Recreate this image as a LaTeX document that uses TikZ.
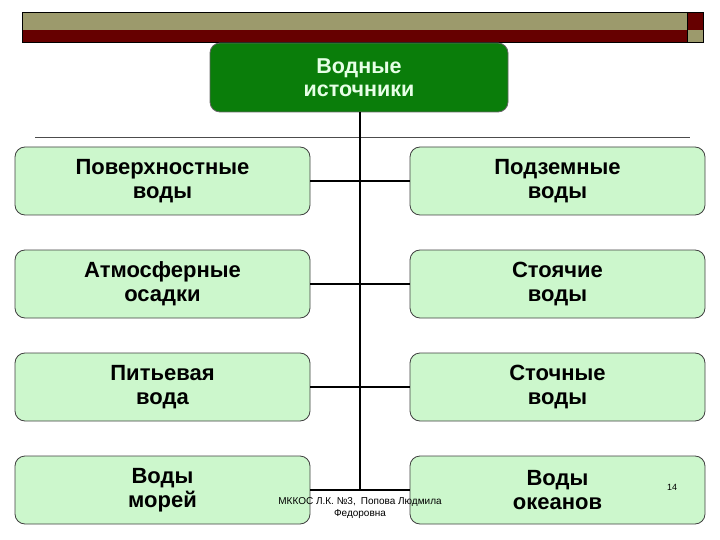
\documentclass[tikz,border=0pt]{standalone}
\usepackage{fontspec}
\setmainfont{Liberation Sans}
\definecolor{khaki}{HTML}{9C9A6C}
\definecolor{dred}{HTML}{660000}
\definecolor{dgreen}{HTML}{0A7D0A}
\definecolor{lgreen}{HTML}{CCF7CC}
\definecolor{ltext}{HTML}{E6FFE6}
\begin{document}
\begin{tikzpicture}[x=1pt,y=-1pt,
  item/.style={draw=black!75, line width=0.8pt, fill=lgreen, rounded corners=10pt,
    minimum width=295pt, minimum height=68pt, align=center, inner sep=0pt,
    font=\fontsize{22}{24}\selectfont\bfseries},
  root/.style={draw=black!60, line width=0.8pt, fill=dgreen, rounded corners=10pt,
    minimum width=298pt, minimum height=69pt, align=center, inner sep=0pt,
    text=ltext, font=\fontsize{21.5}{23}\selectfont\bfseries},
  conn/.style={draw=black, line width=1.6pt}]
\useasboundingbox (0,0) rectangle (720,540);
% top bar
\fill[khaki] (22,12) rectangle (687,30);
\fill[dred] (22,30) rectangle (687,42);
\fill[dred] (687,12) rectangle (703,30);
\fill[khaki] (687,30) rectangle (703,42);
\draw[line width=0.8pt] (22,12) rectangle (703,42);
\draw[line width=0.5pt] (687,12) -- (687,42);
% root
\node[root] (root) at (359,77.5) {Водные\\источники};
% separator line
\draw[black!70, line width=0.6pt] (35,137) -- (690,137);
% boxes
\node[item] (l1) at (162.5,181) {Поверхностные\\воды};
\node[item] (r1) at (557.5,181) {Подземные\\воды};
\node[item] (l2) at (162.5,284) {Атмосферные\\осадки};
\node[item] (r2) at (557.5,284) {Стоячие\\воды};
\node[item] (l3) at (162.5,387) {Питьевая\\вода};
\node[item] (r3) at (557.5,387) {Сточные\\воды};
\node[item] (l4) at (162.5,490) {Воды\\морей};
\node[item] (r4) at (557.5,490) {Воды\\океанов};
% trunk
\coordinate (t4) at (360,490);
\draw[conn] (root.south -| t4) -- (t4);
\foreach \r in {1,2,3,4}{
  \draw[conn] (l\r.east) -- (r\r.west);
}
% footer
\node[font=\fontsize{10}{12}\selectfont, align=center, inner sep=0pt] (foot) at (360,508) {МККОС Л.К. №3,\enspace Попова Людмила\\Федоровна};
\node[font=\fontsize{9}{11}\selectfont, inner sep=0pt] (page) at (672,487) {14};
\end{tikzpicture}
\end{document}
